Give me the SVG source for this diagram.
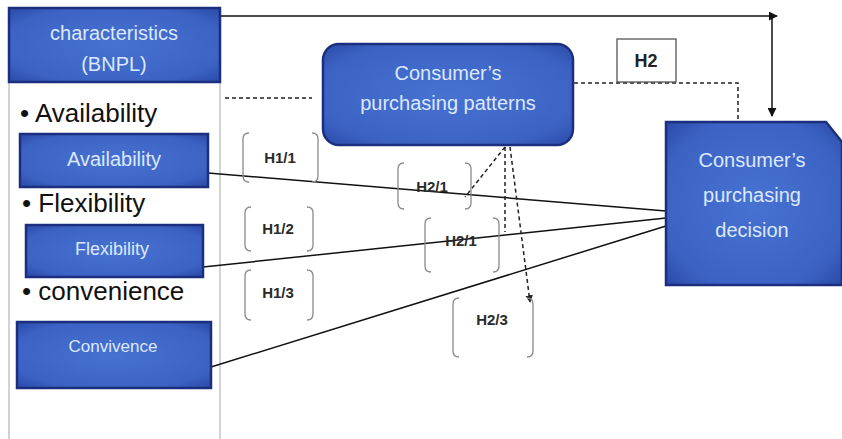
<svg xmlns="http://www.w3.org/2000/svg" width="842" height="439" viewBox="0 0 842 439">
  <style>
    .box { fill: url(#blueGrad); stroke: #1b2f7e; stroke-width: 2.5; }
    .boxtext { font-family: "Liberation Sans", Arial, sans-serif; fill: #dce8ff; text-anchor: middle; }
    .bullet { font-family: "Liberation Sans", Arial, sans-serif; font-size: 26px; fill: #111; }
    .hlabel { font-family: "Liberation Sans", Arial, sans-serif; font-size: 15px; font-weight: bold; fill: #2a2a2a; text-anchor: middle; }
    .brk { fill: none; stroke: #8a8a8a; stroke-width: 1.3; }
    .solid { fill: none; stroke: #111; stroke-width: 1.5; }
    .dash { fill: none; stroke: #222; stroke-width: 1.5; stroke-dasharray: 4 3; }
  </style>
  <defs>
    <radialGradient id="blueGrad" cx="50%" cy="50%" r="70%">
      <stop offset="0%" stop-color="#4772d2"/>
      <stop offset="75%" stop-color="#3c63c4"/>
      <stop offset="100%" stop-color="#2a4aa8"/>
    </radialGradient>
    <marker id="arrow" viewBox="0 0 10 10" refX="9" refY="5" markerWidth="6" markerHeight="6" orient="auto" markerUnits="strokeWidth">
      <path d="M0,0 L10,5 L0,10 z" fill="#111"/>
    </marker>
    <marker id="arrowSmall" viewBox="0 0 10 10" refX="9" refY="5" markerWidth="5" markerHeight="5" orient="auto" markerUnits="strokeWidth">
      <path d="M0,0 L10,5 L0,10 z" fill="#222"/>
    </marker>
  </defs>

  <rect x="0" y="0" width="842" height="439" fill="#ffffff"/>

  <!-- left panel -->
  <rect x="9" y="8" width="211" height="440" fill="none" stroke="#c4c4c4" stroke-width="1.5"/>

  <g id="connectors">
    <path class="solid" d="M220,16 L777,16" marker-end="url(#arrow)"/>
    <path class="solid" d="M772,18 L772,116" marker-end="url(#arrow)"/>
    <path class="solid" d="M208,173 L666,211"/>
    <path class="solid" d="M203,267 L666,218"/>
    <path class="solid" d="M211,367 L666,226"/>
    <path class="dash" d="M225,98 L312,98"/>
    <path class="dash" d="M574,83 L738,83 L738,120"/>
    <path class="dash" d="M505,147 L465,197"/>
    <path class="dash" d="M505,147 L505,232"/>
    <path class="dash" d="M510,147 L530,302" marker-end="url(#arrowSmall)"/>
  </g>

  <g id="characteristics">
    <rect class="box" x="9" y="8" width="211" height="74"/>
    <text class="boxtext" x="114" y="40" font-size="20">characteristics</text>
    <text class="boxtext" x="114" y="71" font-size="20">(BNPL)</text>
  </g>

  <g id="bullet-availability"><text class="bullet" x="20" y="122">• Availability</text></g>
  <g id="bullet-flexibility"><text class="bullet" x="22" y="212">• Flexibility</text></g>
  <g id="bullet-convenience"><text class="bullet" x="22" y="300">• convenience</text></g>

  <g id="availability">
    <rect class="box" x="20" y="134" width="188" height="53"/>
    <text class="boxtext" x="114" y="166" font-size="20">Availability</text>
  </g>

  <g id="flexibility">
    <rect class="box" x="26" y="225" width="177" height="52"/>
    <text class="boxtext" x="112" y="255" font-size="18">Flexibility</text>
  </g>

  <g id="convivence">
    <rect class="box" x="17" y="322" width="194" height="66"/>
    <text class="boxtext" x="113" y="352" font-size="17">Convivence</text>
  </g>

  <g id="patterns">
    <rect class="box" x="323" y="44" width="250" height="101" rx="16" ry="16"/>
    <text class="boxtext" x="448" y="80" font-size="20">Consumer’s</text>
    <text class="boxtext" x="448" y="110" font-size="20">purchasing patterns</text>
  </g>

  <g id="decision">
    <path class="box" d="M666,122 L826,122 L842,142 L842,285 L666,285 Z"/>
    <text class="boxtext" x="752" y="167" font-size="20">Consumer’s</text>
    <text class="boxtext" x="752" y="202" font-size="20">purchasing</text>
    <text class="boxtext" x="752" y="237" font-size="20">decision</text>
  </g>

  <g id="h2">
    <rect x="617" y="39" width="59" height="43" fill="#fff" stroke="#555" stroke-width="1.3"/>
    <text x="646" y="67" font-family="'Liberation Sans', Arial, sans-serif" font-size="18" font-weight="bold" fill="#222" text-anchor="middle">H2</text>
  </g>

  <g id="h1-1">
    <path class="brk" d="M249,133 Q243,133 243,139 L243,176 Q243,182 249,182"/>
    <path class="brk" d="M312,133 Q318,133 318,139 L318,176 Q318,182 312,182"/>
    <text class="hlabel" x="280" y="163">H1/1</text>
  </g>
  <g id="h1-2">
    <path class="brk" d="M251,207 Q245,207 245,213 L245,245 Q245,251 251,251"/>
    <path class="brk" d="M307,207 Q313,207 313,213 L313,245 Q313,251 307,251"/>
    <text class="hlabel" x="278" y="234">H1/2</text>
  </g>
  <g id="h1-3">
    <path class="brk" d="M251,270 Q245,270 245,276 L245,314 Q245,320 251,320"/>
    <path class="brk" d="M307,270 Q313,270 313,276 L313,314 Q313,320 307,320"/>
    <text class="hlabel" x="278" y="298">H1/3</text>
  </g>
  <g id="h2-1a">
    <path class="brk" d="M404,163 Q398,163 398,169 L398,203 Q398,209 404,209"/>
    <path class="brk" d="M465,163 Q471,163 471,169 L471,203 Q471,209 465,209"/>
    <text class="hlabel" x="432" y="192">H2/1</text>
  </g>
  <g id="h2-1b">
    <path class="brk" d="M431,218 Q425,218 425,224 L425,266 Q425,272 431,272"/>
    <path class="brk" d="M493,218 Q499,218 499,224 L499,266 Q499,272 493,272"/>
    <text class="hlabel" x="461" y="246">H2/1</text>
  </g>
  <g id="h2-3">
    <path class="brk" d="M459,298 Q453,298 453,304 L453,351 Q453,357 459,357"/>
    <path class="brk" d="M527,298 Q533,298 533,304 L533,351 Q533,357 527,357"/>
    <text class="hlabel" x="492" y="325">H2/3</text>
  </g>
</svg>
